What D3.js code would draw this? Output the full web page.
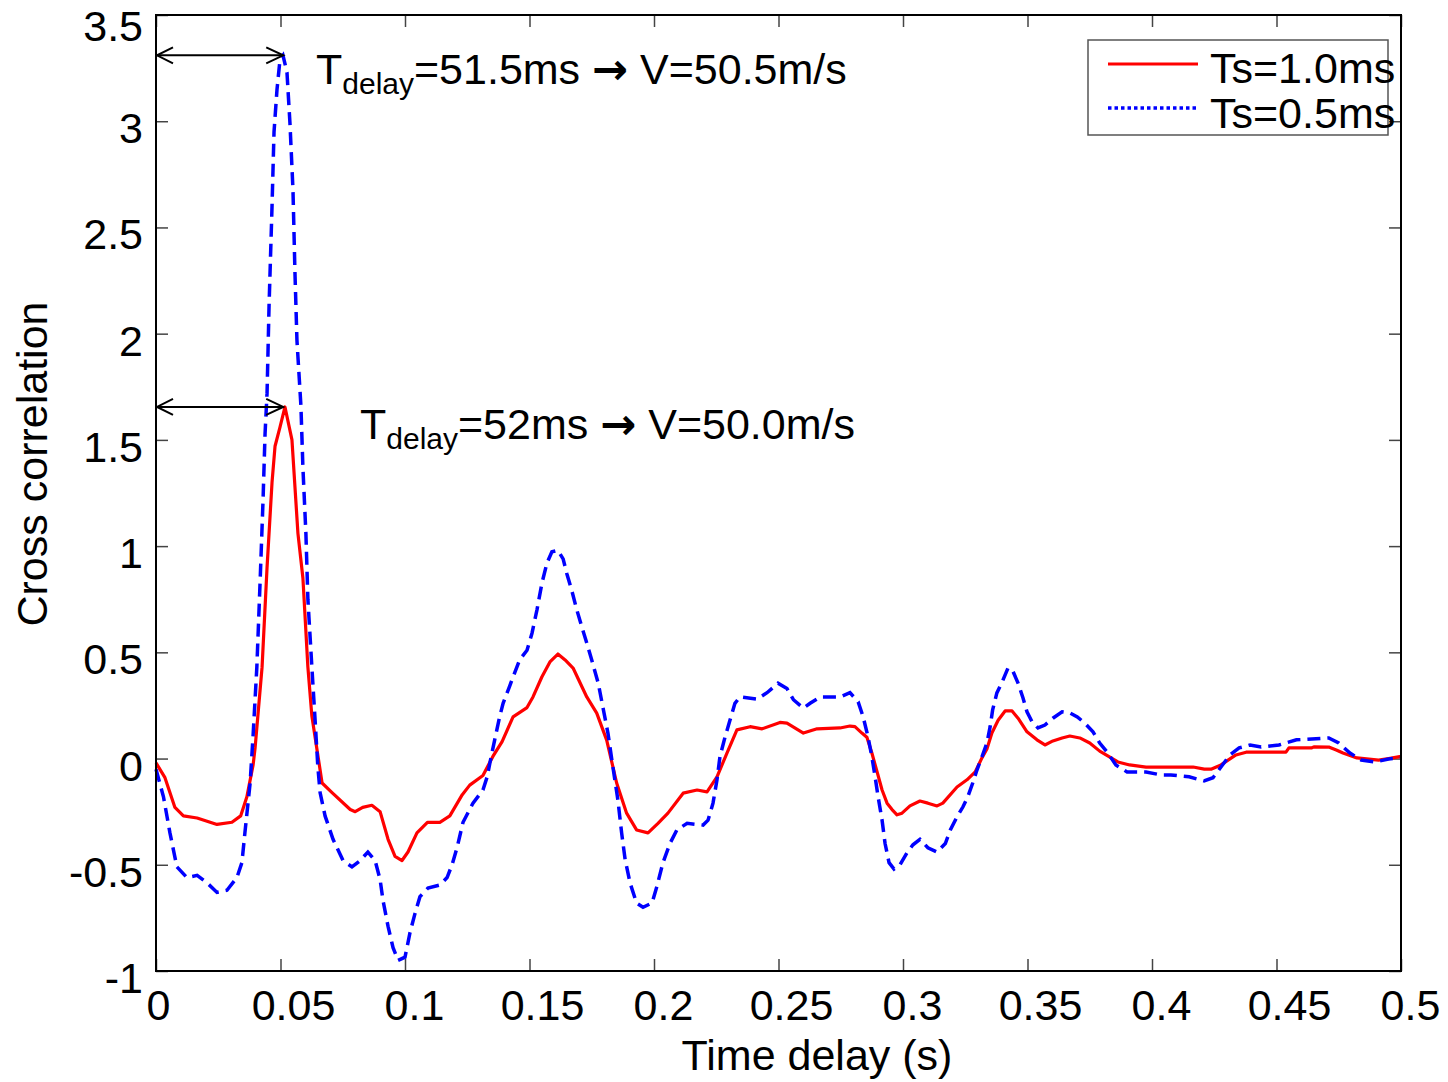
<!DOCTYPE html>
<html>
<head>
<meta charset="utf-8">
<script src="https://cdn.jsdelivr.net/npm/d3@7"></script>
<style>
  body { margin: 0; background: #fff; }
  text { font-family: "Liberation Sans", Arial, Helvetica, sans-serif; fill: #000; }
</style>
</head>
<body>
<div id="chart"></div>
<script>
// cross correlation vs time delay, two sampling periods

// Ts = 1.0 ms (red, solid)
var ts1Delay = [0, 0.0036, 0.0076, 0.011, 0.0165, 0.0245, 0.0305, 0.034, 0.0365, 0.039,
  0.0398, 0.0426, 0.0446, 0.0466, 0.0478, 0.0498, 0.0518, 0.0546, 0.057, 0.059,
  0.061, 0.0626, 0.0667, 0.0707, 0.078, 0.080, 0.083, 0.0867, 0.090, 0.0932,
  0.096, 0.0988, 0.1012, 0.1048, 0.109, 0.114, 0.118, 0.123, 0.126, 0.1313,
  0.1353, 0.139, 0.1434, 0.149, 0.1514, 0.155, 0.1582, 0.1614, 0.1643, 0.1675,
  0.173, 0.177, 0.181, 0.185, 0.189, 0.193, 0.1976, 0.2016, 0.2056, 0.2117,
  0.2173, 0.2213, 0.2253, 0.2293, 0.2333, 0.2386, 0.2434, 0.2506, 0.2534, 0.260,
  0.2655, 0.2747, 0.2787, 0.2807, 0.2835, 0.2855, 0.2875, 0.2896, 0.2916, 0.2936,
  0.2956, 0.2976, 0.2996, 0.3028, 0.3068, 0.310, 0.3137, 0.316, 0.3217, 0.3257,
  0.329, 0.3317, 0.3337, 0.3357, 0.3382, 0.341, 0.3438, 0.3462, 0.3498, 0.3538,
  0.357, 0.3602, 0.3639, 0.367, 0.371, 0.375, 0.379, 0.3863, 0.391, 0.3976,
  0.4165, 0.421, 0.4237, 0.4277, 0.4337, 0.4378, 0.4538, 0.455, 0.464, 0.465,
  0.471, 0.474, 0.4767, 0.4823, 0.491, 0.495, 0.5];
var ts1Corr = [-0.02, -0.09, -0.23, -0.27, -0.28, -0.31, -0.30, -0.27, -0.18, -0.03,
  0.05, 0.43, 0.90, 1.30, 1.47, 1.56, 1.655, 1.50, 1.06, 0.85,
  0.43, 0.20, -0.115, -0.16, -0.24, -0.25, -0.23, -0.22, -0.25, -0.38,
  -0.46, -0.48, -0.44, -0.35, -0.30, -0.30, -0.27, -0.17, -0.125, -0.08,
  0.01, 0.08, 0.196, 0.24, 0.29, 0.385, 0.455, 0.492, 0.464, 0.426,
  0.29, 0.214, 0.087, -0.115, -0.257, -0.336, -0.35, -0.305, -0.257, -0.163,
  -0.148, -0.157, -0.086, 0.026, 0.135, 0.15, 0.14, 0.17, 0.167, 0.12,
  0.14, 0.144, 0.153, 0.15, 0.12, 0.10, 0.026, -0.063, -0.148, -0.21,
  -0.24, -0.265, -0.257, -0.223, -0.20, -0.21, -0.223, -0.21, -0.134, -0.10,
  -0.063, 0.003, 0.045, 0.12, 0.18, 0.224, 0.224, 0.19, 0.126, 0.088,
  0.064, 0.083, 0.097, 0.106, 0.097, 0.073, 0.035, -0.016, -0.03, -0.04,
  -0.04, -0.05, -0.05, -0.03, 0.017, 0.03, 0.03, 0.05, 0.05, 0.055,
  0.054, 0.04, 0.026, 0.003, -0.007, 0.0, 0.01];

// Ts = 0.5 ms (blue, dashed)
var ts05Delay = [0, 0.003, 0.0056, 0.0084, 0.0124, 0.0165, 0.0205, 0.0245, 0.0285, 0.0325,
  0.0345, 0.0357, 0.0378, 0.039, 0.0405, 0.0418, 0.043, 0.0438, 0.0446, 0.0454,
  0.0466, 0.0474, 0.0486, 0.0498, 0.051, 0.0526, 0.0538, 0.055, 0.0558, 0.0566,
  0.0582, 0.059, 0.0602, 0.061, 0.0626, 0.0638, 0.065, 0.0659, 0.0679, 0.0711,
  0.0751, 0.0787, 0.082, 0.0851, 0.088, 0.090, 0.0912, 0.0932, 0.0952, 0.0972,
  0.100, 0.102, 0.104, 0.106, 0.1092, 0.114, 0.1169, 0.1189, 0.121, 0.1233,
  0.1273, 0.1313, 0.133, 0.1341, 0.136, 0.138, 0.1394, 0.142, 0.146, 0.149,
  0.151, 0.153, 0.155, 0.157, 0.159, 0.1614, 0.1635, 0.165, 0.167, 0.169,
  0.171, 0.173, 0.175, 0.1776, 0.1795, 0.1815, 0.1835, 0.1855, 0.187, 0.1884,
  0.1904, 0.193, 0.1956, 0.1992, 0.2012, 0.2036, 0.2064, 0.2092, 0.2133, 0.2197,
  0.2217, 0.2237, 0.2253, 0.2265, 0.2285, 0.2305, 0.2325, 0.2345, 0.2414, 0.2454,
  0.2498, 0.2534, 0.256, 0.260, 0.2627, 0.2667, 0.2747, 0.2787, 0.282, 0.284,
  0.286, 0.2875, 0.2888, 0.290, 0.2916, 0.2928, 0.2944, 0.2964, 0.2988, 0.3016,
  0.304, 0.3068, 0.310, 0.3137, 0.317, 0.319, 0.3217, 0.3241, 0.326, 0.328,
  0.3297, 0.3317, 0.3337, 0.335, 0.336, 0.3377, 0.3398, 0.3422, 0.3442, 0.3462,
  0.3482, 0.3498, 0.3518, 0.3542, 0.357, 0.3602, 0.3639, 0.367, 0.370, 0.373,
  0.3763, 0.379, 0.382, 0.3855, 0.390, 0.3976, 0.4036, 0.4076, 0.4149, 0.4209,
  0.4245, 0.4277, 0.4313, 0.435, 0.4394, 0.4438, 0.451, 0.458, 0.471, 0.475,
  0.4795, 0.484, 0.4896, 0.495, 0.5];
var ts05Corr = [-0.05, -0.18, -0.35, -0.51, -0.56, -0.55, -0.585, -0.63, -0.62, -0.56,
  -0.49, -0.35, -0.115, 0.11, 0.43, 0.83, 1.22, 1.53, 1.72, 2.13,
  2.6, 2.95, 3.15, 3.29, 3.31, 3.23, 2.99, 2.68, 2.29, 1.97,
  1.66, 1.37, 1.06, 0.75, 0.43, 0.2, -0.04, -0.16, -0.27, -0.38,
  -0.48, -0.51, -0.48, -0.44, -0.48, -0.57, -0.67, -0.79, -0.89, -0.95,
  -0.935, -0.82, -0.73, -0.65, -0.61, -0.595, -0.56, -0.50, -0.415, -0.30,
  -0.21, -0.148, -0.086, -0.02, 0.087, 0.196, 0.26, 0.34, 0.464, 0.51,
  0.59, 0.70, 0.826, 0.92, 0.973, 0.98, 0.94, 0.87, 0.79, 0.70,
  0.62, 0.544, 0.464, 0.355, 0.24, 0.12, -0.04, -0.195, -0.35, -0.475,
  -0.586, -0.68, -0.70, -0.68, -0.60, -0.49, -0.40, -0.336, -0.305, -0.313,
  -0.29, -0.21, -0.10, 0.01, 0.10, 0.18, 0.26, 0.29, 0.28, 0.31,
  0.355, 0.33, 0.277, 0.237, 0.26, 0.29, 0.29, 0.31, 0.267, 0.196,
  0.10, 0.008, -0.086, -0.18, -0.29, -0.40, -0.49, -0.52, -0.50, -0.444,
  -0.406, -0.38, -0.42, -0.44, -0.40, -0.336, -0.274, -0.227, -0.18, -0.115,
  -0.054, 0.008, 0.073, 0.15, 0.229, 0.309, 0.36, 0.427, 0.41, 0.355,
  0.285, 0.22, 0.174, 0.144, 0.158, 0.19, 0.22, 0.215, 0.196, 0.167,
  0.126, 0.073, 0.03, -0.03, -0.063, -0.063, -0.077, -0.077, -0.086, -0.105,
  -0.09, -0.04, 0.017, 0.05, 0.064, 0.054, 0.064, 0.088, 0.097, 0.073,
  0.026, -0.007, -0.016, -0.002, 0.003];

var xTicks = [0, 0.05, 0.1, 0.15, 0.2, 0.25, 0.3, 0.35, 0.4, 0.45, 0.5];
var yTicks = [-1, -0.5, 0, 0.5, 1, 1.5, 2, 2.5, 3, 3.5];
var xTickLabels = ["0", "0.05", "0.1", "0.15", "0.2", "0.25", "0.3", "0.35", "0.4", "0.45", "0.5"];
var yTickLabels = ["-1", "-0.5", "0", "0.5", "1", "1.5", "2", "2.5", "3", "3.5"];

// peak annotations: delay (s), correlation, texts around the arrow
var peakDelay = [0.0515, 0.0515];
var peakCorr = [3.31, 1.655];
var peakLeft = ["=51.5ms ", "=52ms "];
var peakRight = [" V=50.5m/s", " V=50.0m/s"];

var legendNames = ["Ts=1.0ms", "Ts=0.5ms"];

var W = 1448, H = 1082;
var margin = {top: 15, right: 47, bottom: 111, left: 156},
    width = W - margin.left - margin.right,
    height = H - margin.top - margin.bottom;
var fs = "43px";

var svg = d3.select("#chart").append("svg")
    .attr("width", W)
    .attr("height", H);

svg.append("rect").attr("width", W).attr("height", H).attr("fill", "white");

var g = svg.append("g").attr("transform", "translate(" + margin.left + "," + margin.top + ")");

var x = d3.scaleLinear().domain([0, 0.5]).range([0, width]);
var y = d3.scaleLinear().domain([-1, 3.5]).range([height, 0]);

var tickLen = 12;

function styleTicks(a){
    a.select(".domain").remove();
    a.selectAll("line").attr("stroke", "#444").attr("stroke-width", 1.5);
}

// ticks inside on all four sides
g.append("g").attr("transform", "translate(0," + height + ")")
    .call(d3.axisBottom(x).tickValues(xTicks).tickSize(-tickLen).tickFormat(""))
    .call(styleTicks);
g.append("g")
    .call(d3.axisTop(x).tickValues(xTicks).tickSize(-tickLen).tickFormat(""))
    .call(styleTicks);
g.append("g")
    .call(d3.axisLeft(y).tickValues(yTicks).tickSize(-tickLen).tickFormat(""))
    .call(styleTicks);
g.append("g").attr("transform", "translate(" + width + ",0)")
    .call(d3.axisRight(y).tickValues(yTicks).tickSize(-tickLen).tickFormat(""))
    .call(styleTicks);

// tick labels
g.selectAll(".xlab").data(xTicks).enter().append("text")
    .attr("class", "xlab")
    .attr("x", function(d){ return x(d); })
    .attr("dx", function(d, i){ return 3.5 * xTickLabels[i].length - 1; })
    .attr("y", height + 49)
    .attr("text-anchor", "middle")
    .style("font-size", fs)
    .text(function(d, i){ return xTickLabels[i]; });

// top label would poke out of the page, keep it just inside
g.selectAll(".ylab").data(yTicks).enter().append("text")
    .attr("class", "ylab")
    .attr("x", -13)
    .attr("y", function(d){ return Math.max(y(d) + 22, 26); })
    .attr("text-anchor", "end")
    .style("font-size", fs)
    .text(function(d, i){ return yTickLabels[i]; });

// axis titles
svg.append("text")
    .attr("x", 817).attr("y", 1070)
    .attr("text-anchor", "middle")
    .style("font-size", fs)
    .text("Time delay (s)");

svg.append("text")
    .attr("transform", "translate(47,464) rotate(-90)")
    .attr("text-anchor", "middle")
    .style("font-size", fs)
    .text("Cross correlation");

var line = d3.line()
    .x(function(d){ return x(d[0]); })
    .y(function(d){ return y(d[1]); });

g.append("path")
    .datum(d3.zip(ts1Delay, ts1Corr))
    .attr("d", line)
    .attr("fill", "none")
    .attr("stroke", "#ff0000")
    .attr("stroke-width", 3.2)
    .attr("stroke-linejoin", "round");

g.append("path")
    .datum(d3.zip(ts05Delay, ts05Corr))
    .attr("d", line)
    .attr("fill", "none")
    .attr("stroke", "#0000ff")
    .attr("stroke-width", 3.5)
    .attr("stroke-dasharray", "13,7");

// box
g.append("rect")
    .attr("width", width).attr("height", height)
    .attr("fill", "none")
    .attr("stroke", "#000")
    .attr("stroke-width", 2);

// double arrows from y axis to the peaks
var arrows = g.selectAll(".peak").data(peakDelay).enter().append("g").attr("class", "peak");
arrows.append("line")
    .attr("x1", 0).attr("x2", function(d){ return x(d) - 1; })
    .attr("y1", function(d, i){ return y(peakCorr[i]); })
    .attr("y2", function(d, i){ return y(peakCorr[i]); })
    .attr("stroke", "#000").attr("stroke-width", 2);
arrows.append("path")
    .attr("d", function(d, i){
        var yy = y(peakCorr[i]), xr = x(d) - 1;
        return "M17," + (yy - 8) + "L1," + yy + "L17," + (yy + 8) +
               "M" + (xr - 17) + "," + (yy - 8) + "L" + xr + "," + yy + "L" + (xr - 17) + "," + (yy + 8);
    })
    .attr("fill", "none").attr("stroke", "#000").attr("stroke-width", 2);

var noteX = [316, 360], noteY = [84, 439];
peakLeft.forEach(function(s, i){
    var t = svg.append("text")
        .attr("x", noteX[i]).attr("y", noteY[i])
        .style("font-size", fs);
    t.append("tspan").text("T");
    t.append("tspan").attr("dy", 10).style("font-size", "30px").text("delay");
    t.append("tspan").attr("dy", -10).text(s);
    t.append("tspan").style("font-family", "DejaVu Sans").style("font-weight", "bold").text("\u2192");
    t.append("tspan").text(peakRight[i]);
});

// legend
svg.append("rect")
    .attr("x", 1088).attr("y", 40)
    .attr("width", 300).attr("height", 95)
    .attr("fill", "white")
    .attr("stroke", "#555").attr("stroke-width", 1.5);

svg.append("line")
    .attr("x1", 1108).attr("x2", 1198).attr("y1", 64).attr("y2", 64)
    .attr("stroke", "#ff0000").attr("stroke-width", 3.2);
svg.append("line")
    .attr("x1", 1108).attr("x2", 1198).attr("y1", 108).attr("y2", 108)
    .attr("stroke", "#0000ff").attr("stroke-width", 3.5).attr("stroke-dasharray", "3.5,3");

svg.selectAll(".legtext").data(legendNames).enter().append("text")
    .attr("class", "legtext")
    .attr("x", 1210)
    .attr("y", function(d, i){ return 83 + i * 45; })
    .style("font-size", fs)
    .text(function(d){ return d; });
</script>
</body>
</html>
